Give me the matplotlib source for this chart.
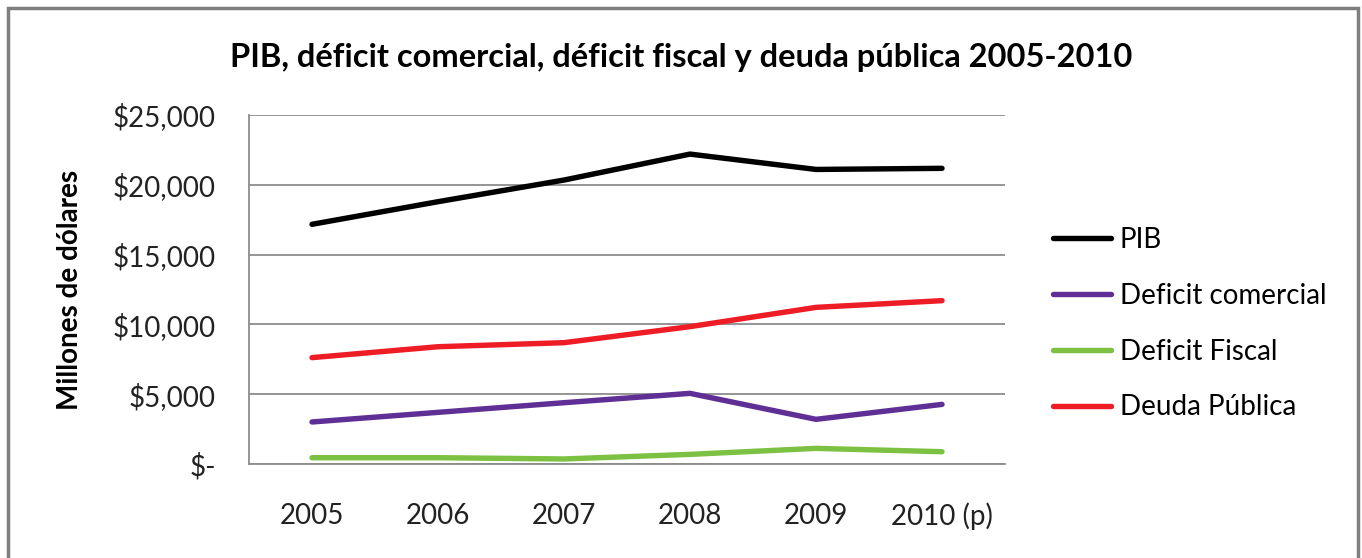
import matplotlib
matplotlib.use("Agg")
import matplotlib.pyplot as plt
from matplotlib.patches import Rectangle

years = ["2005", "2006", "2007", "2008", "2009", "2010 (p)"]
pib = [17170, 18790, 20340, 22200, 21100, 21180]
deficit_comercial = [3010, 3700, 4390, 5060, 3200, 4270]
deficit_fiscal = [450, 450, 360, 690, 1120, 880]
deuda_publica = [7620, 8400, 8690, 9840, 11220, 11700]
series_names = ["PIB", "Deficit comercial", "Deficit Fiscal", "Deuda Pública"]
yticks = [0, 5000, 10000, 15000, 20000, 25000]
ytick_labels = ["$-", "$5,000", "$10,000", "$15,000", "$20,000", "$25,000"]

colors = ["#000000", "#5f2f96", "#7cc142", "#ee1c25"]

plt.rcParams['font.family'] = ['Lato', 'DejaVu Sans']

fig = plt.figure(figsize=(13.62, 5.58), dpi=100)
W, H = 1362, 558
ax = fig.add_axes([249 / W, 1 - 464 / H, (1005 - 249) / W, (464 - 115) / H])

x = list(range(len(years)))
for vals, name, c in zip([pib, deficit_comercial, deficit_fiscal, deuda_publica], series_names, colors):
    ax.plot(x, vals, color=c, lw=3.9, label=name, solid_capstyle='round', solid_joinstyle='round')

ax.set_xlim(-0.5, len(years) - 0.5)
ax.set_ylim(0, 25000)
ax.set_yticks(yticks)
ax.set_yticklabels(ytick_labels)
ax.set_xticks(x)
ax.set_xticklabels(years)
ax.yaxis.grid(True, color="#8c8c8c", lw=1.3)
ax.set_axisbelow(True)
for s in ["top", "right"]:
    ax.spines[s].set_visible(False)
ax.spines["left"].set_color("#8c8c8c")
ax.spines["bottom"].set_color("#8c8c8c")
ax.spines["left"].set_linewidth(1.3)
ax.spines["bottom"].set_linewidth(1.3)
ax.tick_params(axis='y', length=0, pad=24, labelsize=20, labelcolor="#222222")
ax.tick_params(axis='x', length=0, pad=28, labelsize=20, labelcolor="#222222")

ax.set_ylabel("Millones de dólares", fontsize=20, fontweight='bold')
ax.yaxis.set_label_coords((70 - 249) / (1005 - 249), 0.5)
ax.yaxis.label.set_va('center')

fig.text(681 / W, 1 - 57 / H, "PIB, déficit comercial, déficit fiscal y deuda pública 2005-2010",
         ha='center', va='center', fontsize=23.5, fontweight='bold')

leg = fig.legend(loc='upper left', bbox_to_anchor=(1042 / W, 1 - 216 / H), frameon=False,
                 fontsize=20, handlelength=2.1, handletextpad=0.3, labelspacing=1.07,
                 borderaxespad=0)

fig.patches.append(Rectangle((8 / W, -0.05), (1358 - 8) / W, 1.05 - 8 / H,
                             transform=fig.transFigure, fill=False,
                             edgecolor="#7f7f7f", lw=2.5))

fig.savefig("out.png", dpi=100)
